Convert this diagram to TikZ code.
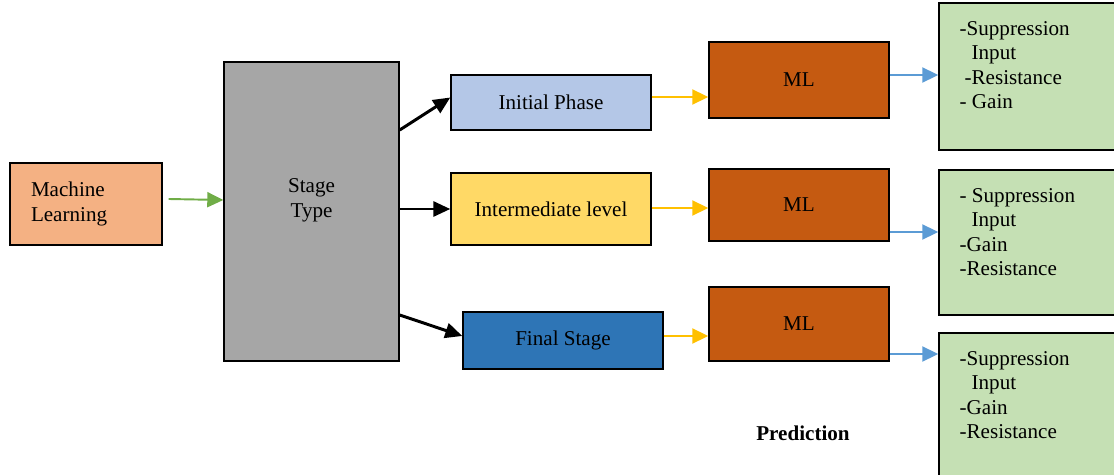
\documentclass[tikz,border=0pt]{standalone}
\usepackage{fontspec}
\setmainfont{Liberation Serif}
\usetikzlibrary{arrows.meta}

\definecolor{mlorange}{HTML}{F4B183}
\definecolor{stagegray}{HTML}{A6A6A6}
\definecolor{initblue}{HTML}{B4C7E7}
\definecolor{interyellow}{HTML}{FFD966}
\definecolor{finalblue}{HTML}{2E75B6}
\definecolor{mlbrown}{HTML}{C55A11}
\definecolor{outgreen}{HTML}{C5E0B4}
\definecolor{arrgreen}{HTML}{70AD47}
\definecolor{arryellow}{HTML}{FFC000}
\definecolor{arrblue}{HTML}{5B9BD5}

\begin{document}
\begin{tikzpicture}[
    font=\fontsize{12}{14}\selectfont,
    box/.style={draw=black, line width=0.8pt, rectangle, inner sep=0pt},
    outtext/.style={align=left, inner sep=0pt, anchor=north west},
    thickarr/.style={line width=1.7pt, -{Triangle[length=0.34cm,width=0.3cm]}},
    thinarr/.style={line width=1.1pt, -{Triangle[length=0.32cm,width=0.3cm]}}
  ]
  \useasboundingbox (0,0) rectangle (22.28,-9.5);
  \clip (0,0) rectangle (22.28,-9.5);

  % left part
  \node[box, fill=mlorange, minimum width=3.04cm, minimum height=1.64cm,
        text width=2.2cm, inner xsep=0.42cm, align=left] (ml) at (1.72,-4.08)
        {Machine\\Learning};
  \node[box, fill=stagegray, minimum width=3.5cm, minimum height=5.98cm] (stage) at (6.23,-4.23) {};
  \node[align=center] (stagetxt) at ([yshift=0.22cm]stage.center) {Stage\\Type};

  % stages
  \node[box, fill=initblue, minimum width=4cm, minimum height=1.1cm] (init) at (11.02,-2.05) {Initial Phase};
  \node[box, fill=interyellow, minimum width=4cm, minimum height=1.44cm] (inter) at (11.02,-4.18) {Intermediate level};
  \node[box, fill=finalblue, minimum width=4cm, minimum height=1.14cm] (final) at (11.26,-6.81) {Final Stage};

  % ML boxes
  \node[box, fill=mlbrown, minimum width=3.6cm, minimum height=1.52cm] (mlA) at (15.98,-1.6) {ML};
  \node[box, fill=mlbrown, minimum width=3.6cm, minimum height=1.44cm] (mlB) at (15.98,-4.1) {ML};
  \node[box, fill=mlbrown, minimum width=3.6cm, minimum height=1.48cm] (mlC) at (15.98,-6.48) {ML};

  % outputs
  \node[box, fill=outgreen, minimum width=3.62cm, minimum height=2.94cm] (outA) at (20.59,-1.53) {};
  \node[box, fill=outgreen, minimum width=3.62cm, minimum height=2.9cm] (outB) at (20.59,-4.85) {};
  \node[box, fill=outgreen, minimum width=3.62cm, minimum height=3.04cm] (outC) at (20.59,-8.18) {};
  \node[outtext] (txtA) at ([xshift=0.42cm,yshift=-0.37cm]outA.north west)
    {-Suppression\\\hspace{0.24cm}Input\\\hspace{0.1cm}-Resistance\\- Gain};
  \node[outtext] (txtB) at ([xshift=0.42cm,yshift=-0.37cm]outB.north west)
    {- Suppression\\\hspace{0.24cm}Input\\-Gain\\-Resistance};
  \node[outtext] (txtC) at ([xshift=0.42cm,yshift=-0.37cm]outC.north west)
    {-Suppression\\\hspace{0.24cm}Input\\-Gain\\-Resistance};

  \node[font=\fontsize{12}{14}\selectfont\bfseries] (pred) at (16.06,-8.66) {Prediction};

  % connectors
  \draw[thinarr, arrgreen] ([xshift=0.12cm,yshift=0.1cm]ml.east) -- ([yshift=0.08cm]ml.east -| stage.west);
  \draw[thickarr] ([yshift=1.63cm]stage.east) -- ([yshift=0.1cm]init.west);
  \draw[thickarr] ([yshift=0.05cm]stage.east) -- ([yshift=0.05cm]stage.east -| inter.west);
  \draw[thickarr] ([yshift=-2.07cm]stage.east) -- ([yshift=0.09cm]final.west);

  \draw[thinarr, arryellow] ([yshift=0.11cm]init.east) -- ([yshift=0.11cm]init.east -| mlA.west);
  \draw[thinarr, arryellow] ([yshift=0.02cm]inter.east) -- ([yshift=0.02cm]inter.east -| mlB.west);
  \draw[thinarr, arryellow] ([yshift=0.09cm]final.east) -- ([yshift=0.09cm]final.east -| mlC.west);

  \draw[thinarr, arrblue] ([yshift=0.1cm]mlA.east) -- ([yshift=0.1cm]mlA.east -| outA.west);
  \draw[thinarr, arrblue] ([yshift=-0.54cm]mlB.east) -- ([yshift=-0.54cm]mlB.east -| outB.west);
  \draw[thinarr, arrblue] ([yshift=-0.6cm]mlC.east) -- ([yshift=-0.6cm]mlC.east -| outC.west);
\end{tikzpicture}
\end{document}
